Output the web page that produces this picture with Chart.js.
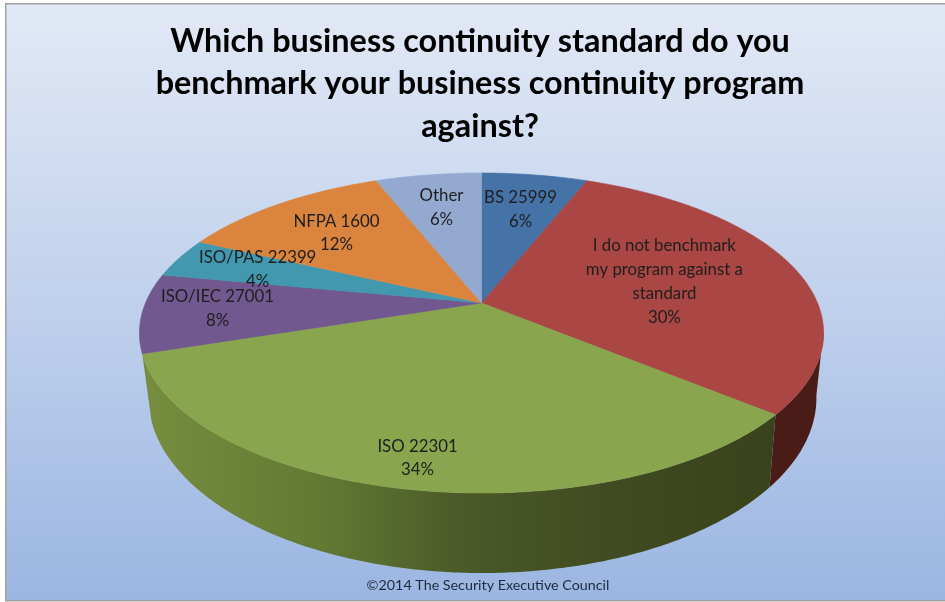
<!DOCTYPE html>
<html>
<head>
<meta charset="utf-8">
<title>Business continuity standards</title>
<script src="https://cdn.jsdelivr.net/npm/chart.js@4"></script>
<style>
  html, body { margin: 0; padding: 0; background: #fff; }
  canvas { display: block; }
</style>
</head>
<body>
<canvas id="myChart" width="945" height="602"></canvas>
<script>
// Data
const categories = ['BS 25999', ['I do not benchmark', 'my program against a', 'standard'], 'ISO 22301',
    'ISO/IEC 27001', 'ISO/PAS 22399', 'NFPA 1600', 'Other'];
const shares = [6, 30, 34, 8, 4, 12, 6];
const sliceColors = ['#4572A7', '#AA4643', '#89A54E', '#71588F', '#4198AF', '#DB843D', '#93A9CF'];
const titleLines = ['Which business continuity standard do you', 'benchmark your business continuity program', 'against?'];
const footerText = '©2014 The Security Executive Council';

// Label placement, as a fraction of the radius along each slice's middle
const labelRadius = [0.70, 0.577, 0.856, 0.78, 0.73, 0.69, 0.72];
const labelShiftY = [1, 0, 1, -2, 0, 1, 1];

// The 3D look: each disc is a perspective projection of the unit circle
const topDisc = { cx: 481.5, cy: 303, a: 336, b: 154.4, p: 0.1875 };
const baseDisc = { cx: 482.5, cy: 365, a: 328, b: 169, p: 0.1875 };
const sideFrom = Math.PI * 100 / 180;   // the rim shows from here...
const sideTo = Math.PI * 252 / 180;     // ...to here, clockwise from the top

function project(disc, theta, r) {
    const u = r * Math.sin(theta);
    const v = -r * Math.cos(theta);
    const w = 1 - disc.p * v;
    return { x: disc.cx + disc.a * u / w, y: disc.cy + disc.b * v / w };
}

function traceArc(ctx, disc, from, to) {
    const steps = Math.max(2, Math.ceil(Math.abs(to - from) / 0.01));
    for (let i = 0; i <= steps; i++) {
        const pt = project(disc, from + (to - from) * i / steps, 1);
        ctx.lineTo(pt.x, pt.y);
    }
}

function sideFill(ctx, index) {
    if (index === 1) return '#4A1C18';
    const g = ctx.createLinearGradient(148, 0, 772, 0);
    g.addColorStop(0, '#768C3E');
    g.addColorStop(0.27, '#637A34');
    g.addColorStop(0.5, '#4A5A28');
    g.addColorStop(0.72, '#414C22');
    g.addColorStop(1, '#38421C');
    return g;
}

const pie3d = {
    id: 'pie3d',
    beforeDraw(chart) {
        const ctx = chart.ctx;
        const g = ctx.createLinearGradient(0, 4, 0, 600);
        g.addColorStop(0, '#E2E9F6');
        g.addColorStop(0.5, '#C0D1EC');
        g.addColorStop(1, '#9BB6E2');
        ctx.save();
        ctx.fillStyle = '#fff';
        ctx.fillRect(0, 0, chart.width, chart.height);
        ctx.fillStyle = g;
        ctx.fillRect(6, 4, chart.width - 6, 596);
        ctx.fillStyle = '#A2A2A2';
        ctx.fillRect(5, 3, chart.width - 5, 1.5);
        ctx.fillRect(5, 3, 1.5, 598);
        ctx.fillRect(5, 600, chart.width - 5, 1.5);
        ctx.restore();
    },
    beforeDatasetDraw(chart, args) {
        const ctx = chart.ctx;
        const arcs = chart.getDatasetMeta(args.index).data;
        ctx.save();
        // rim first, so the top face sits over it
        arcs.forEach((arc, i) => {
            const from = Math.max(arc.startAngle + Math.PI / 2, sideFrom);
            const to = Math.min(arc.endAngle + Math.PI / 2, sideTo);
            if (to <= from) return;
            ctx.beginPath();
            traceArc(ctx, topDisc, from, to);
            traceArc(ctx, baseDisc, to, from);
            ctx.closePath();
            ctx.fillStyle = sideFill(ctx, i);
            ctx.fill();
        });
        arcs.forEach(arc => {
            ctx.beginPath();
            ctx.moveTo(topDisc.cx, topDisc.cy);
            traceArc(ctx, topDisc, arc.startAngle + Math.PI / 2, arc.endAngle + Math.PI / 2);
            ctx.closePath();
            ctx.fillStyle = arc.options.backgroundColor;
            ctx.strokeStyle = arc.options.backgroundColor;
            ctx.lineWidth = 0.6;
            ctx.fill();
            ctx.stroke();
        });
        ctx.restore();
        return false;
    },
    afterDatasetsDraw(chart) {
        const ctx = chart.ctx;
        const arcs = chart.getDatasetMeta(0).data;
        ctx.save();
        ctx.fillStyle = '#1E1E1E';
        ctx.font = '16.8px Lato';
        ctx.textAlign = 'center';
        ctx.textBaseline = 'middle';
        arcs.forEach((arc, i) => {
            const mid = (arc.startAngle + arc.endAngle) / 2 + Math.PI / 2;
            const pt = project(topDisc, mid, labelRadius[i]);
            const lines = [].concat(categories[i], shares[i] + '%');
            lines.forEach((line, n) => {
                ctx.fillText(line, pt.x, pt.y + labelShiftY[i] + (n - (lines.length - 1) / 2) * 23.8);
            });
        });
        ctx.font = '14.3px Lato';
        ctx.fillStyle = '#1E2A3A';
        ctx.fillText(footerText, 488, 585);
        ctx.restore();
    }
};

new Chart('myChart', {
    type: 'pie',
    data: {
        labels: categories,
        datasets: [{
            data: shares,
            backgroundColor: sliceColors,
            borderWidth: 0
        }]
    },
    plugins: [pie3d],
    options: {
        responsive: false,
        animation: false,
        events: [],
        layout: { padding: { left: 15 } },
        plugins: {
            legend: { display: false },
            tooltip: { enabled: false },
            title: {
                display: true,
                text: titleLines,
                color: '#000',
                font: { family: 'Lato', size: 32.4, weight: 'bold', lineHeight: 1.31 },
                padding: { top: 20, bottom: 10 }
            }
        }
    }
});
</script>
</body>
</html>
